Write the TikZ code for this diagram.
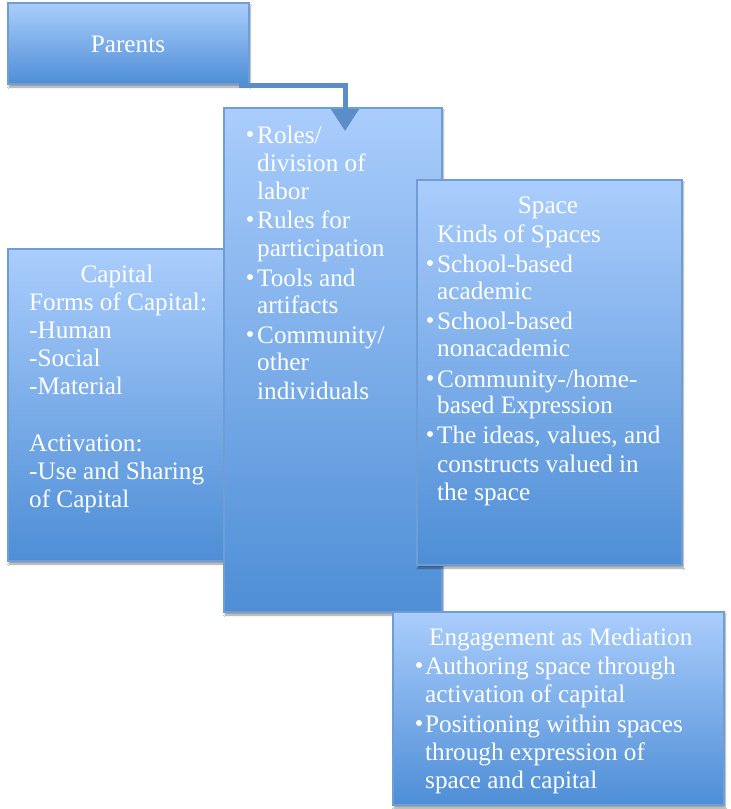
\documentclass[tikz,border=0pt]{standalone}
\usepackage{fontspec}
\setmainfont{Liberation Serif}
\usetikzlibrary{arrows.meta,shadows.blur,calc}
\definecolor{boxtop}{HTML}{AACDFC}
\definecolor{boxbot}{HTML}{4E8ED6}
\definecolor{boxline}{HTML}{6E9ED3}
\definecolor{arrowc}{HTML}{5B8EC8}
\tikzset{
 box/.style={draw=boxline, line width=1.2pt, top color=boxtop, bottom color=boxbot,
   inner sep=0pt, outer sep=0pt, anchor=north west,
   blur shadow={shadow xshift=1pt, shadow yshift=-3pt, shadow blur steps=6, shadow opacity=40}},
 txt/.style={text=white, inner sep=0pt, font=\fontsize{25.2}{28.3}\selectfont, anchor=base west},
 ctxt/.style={txt, anchor=base},
 bul/.style={circle, fill=white, draw=none, inner sep=0pt, minimum size=6pt},
 link/.style={draw=arrowc, line width=5pt, -{Triangle[width=27pt,length=22pt]}},
}
\begin{document}
\begin{tikzpicture}[x=1pt,y=-1pt]
\useasboundingbox[fill=white] (0,0) rectangle (731,809);
% boxes
\node[box, minimum width=241pt, minimum height=81pt] (parents) at (8,3) {};
\node[box, minimum width=230pt, minimum height=312pt] (capital) at (8,249) {};
\node[box, minimum width=218pt, minimum height=504pt] (mid) at (224,108) {};
\coordinate (tip) at (345,131);
\draw[link] ($(parents.south east)+(-10,1)$) -| (tip);
\node[box, minimum width=265pt, minimum height=385pt] (space) at (417,180) {};
\node[box, minimum width=331pt, minimum height=193pt] (eng) at (393,612) {};
% Parents
\node[ctxt] (pt) at (128,52) {Parents};
% Capital
\node[ctxt] (c0) at (117,282) {Capital};
\node[txt] (c1) at (29,310) {Forms of Capital:};
\node[txt] (c2) at (29,338) {-Human};
\node[txt] (c3) at (29,366) {-Social};
\node[txt] (c4) at (29,394) {-Material};
\node[txt] (c5) at (29,451) {Activation:};
\node[txt] (c6) at (29,479) {-Use and Sharing};
\node[txt] (c7) at (29,507) {of Capital};
% Middle
\node[bul] (mb1) at (250,134) {};
\node[txt] (m1) at (257,143) {Roles/};
\node[txt] (m2) at (257,171) {division of};
\node[txt] (m3) at (257,199) {labor};
\node[bul] (mb2) at (250,219) {};
\node[txt] (m4) at (257,228) {Rules for};
\node[txt] (m5) at (257,256) {participation};
\node[bul] (mb3) at (250,277) {};
\node[txt] (m6) at (257,286) {Tools and};
\node[txt] (m7) at (257,313) {artifacts};
\node[bul] (mb4) at (250,334) {};
\node[txt] (m8) at (257,343) {Community/};
\node[txt] (m9) at (257,370) {other};
\node[txt] (m10) at (257,399) {individuals};
% Space
\node[ctxt] (s0) at (548,213) {Space};
\node[txt] (s1) at (437,242) {Kinds of Spaces};
\node[bul] (sb1) at (430,263) {};
\node[txt] (s2) at (437,272) {School-based};
\node[txt] (s3) at (437,299) {academic};
\node[bul] (sb2) at (430,320) {};
\node[txt] (s4) at (437,329) {School-based};
\node[txt] (s5) at (437,356) {nonacademic};
\node[bul] (sb3) at (430,378) {};
\node[txt] (s6) at (437,387) {Community-/home-};
\node[txt] (s7) at (437,413) {based Expression};
\node[bul] (sb4) at (430,434) {};
\node[txt] (s8) at (437,443) {The ideas, values, and};
\node[txt] (s9) at (437,472) {constructs valued in};
\node[txt] (s10) at (437,500) {the space};
% Engagement
\node[txt] (e0) at (429,645) {Engagement as Mediation};
\node[bul] (eb1) at (419,665) {};
\node[txt] (e1) at (425,674) {Authoring space through};
\node[txt] (e2) at (425,702) {activation of capital};
\node[bul] (eb2) at (419,723) {};
\node[txt] (e3) at (425,732) {Positioning within spaces};
\node[txt] (e4) at (425,760) {through expression of};
\node[txt] (e5) at (425,788) {space and capital};
\end{tikzpicture}
\end{document}
